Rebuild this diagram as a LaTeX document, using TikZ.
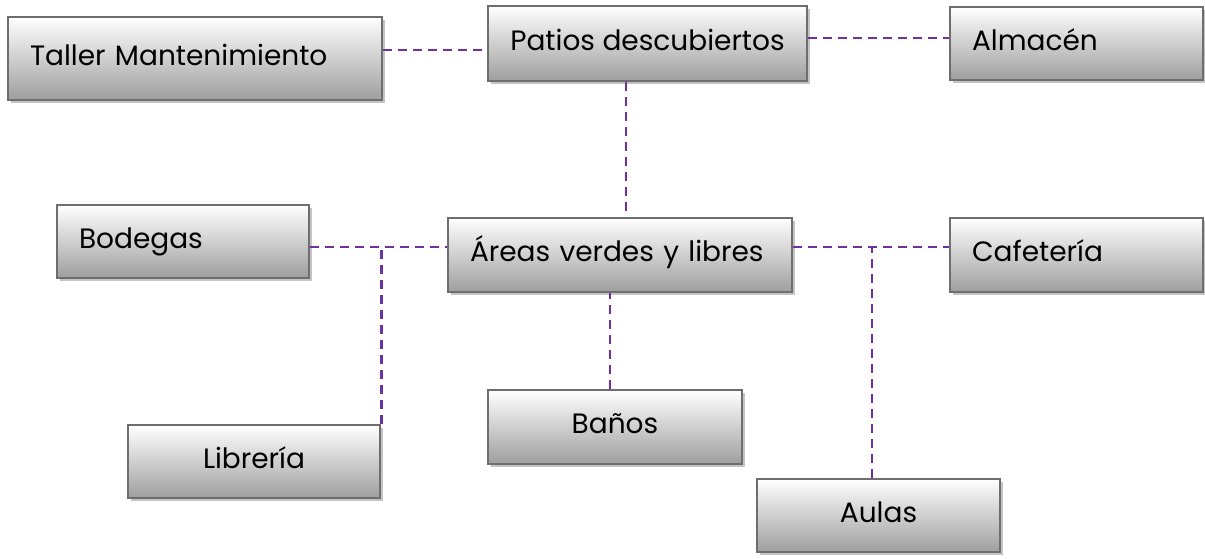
\documentclass[tikz,border=0pt]{standalone}
\usepackage{fontspec}
\setmainfont{Poppins}
\usetikzlibrary{shadows}
\definecolor{PlanPurple}{RGB}{112,48,160}
\definecolor{PlanEdge}{RGB}{110,110,110}
\definecolor{PlanShade}{RGB}{158,158,158}
\definecolor{PlanMid}{RGB}{222,222,222}
\definecolor{PlanShadow}{RGB}{196,196,196}
\tikzset{
  plan/box/.style={
    draw=PlanEdge,
    line width=2.6pt,
    top color=white,
    middle color=PlanMid,
    bottom color=PlanShade,
    drop shadow={shadow xshift=3pt, shadow yshift=-3pt, fill=PlanShadow, opacity=1},
    text=black,
    font=\fontsize{28}{32}\selectfont,
    text height=20pt,
    text depth=7pt,
    inner ysep=0pt
  },
  plan/leftbox/.style={
    plan/box,
    align=left,
    inner xsep=22pt,
    text width=#1-44pt,
    minimum width=#1
  },
  plan/centrebox/.style={
    plan/box,
    align=center,
    inner xsep=0pt,
    minimum width=#1
  },
  plan/link/.style={draw=PlanPurple, line width=2.8pt, dash pattern=on 9pt off 6pt}
}
\begin{document}
\begin{tikzpicture}[x=1pt,y=-1pt]
  \useasboundingbox (0,0) rectangle (1205,558);
  \node[plan/leftbox=374pt,minimum height=83pt] (taller) at (195,58.5) {Taller Mantenimiento};
  \node[plan/centrebox=319pt,minimum height=75pt] (patios) at (647.5,43.5) {Patios descubiertos};
  \node[plan/leftbox=253pt,minimum height=73pt] (almacen) at (1076.5,43.5) {Almacén};
  \node[plan/leftbox=252pt,minimum height=73pt] (bodegas) at (183,241.5) {Bodegas};
  \node[plan/leftbox=344pt,minimum height=74pt] (areas) at (620,255) {Áreas verdes y libres};
  \node[plan/leftbox=253pt,minimum height=74pt] (cafeteria) at (1076.5,255) {Cafetería};
  \node[plan/centrebox=252pt,minimum height=73pt] (libreria) at (254,461.5) {Librería};
  \node[plan/centrebox=254pt,minimum height=74pt] (banos) at (615,427) {Baños};
  \node[plan/centrebox=243pt,minimum height=73pt] (aulas) at (878.5,515.5) {Aulas};

  % top row
  \draw[plan/link] ([yshift=8.5pt]taller.east) -- ([yshift=-6.5pt]patios.west);
  \draw[plan/link] ([yshift=5.5pt]patios.east) -- ([yshift=5.5pt]almacen.west);
  \draw[plan/link] ([xshift=-21.5pt]patios.south) -- ([xshift=6pt]areas.north);
  % middle row and branches
  \coordinate (bl) at ([yshift=-5.5pt]bodegas.east);
  \coordinate (cl) at ([yshift=8pt]areas.east);
  \draw[plan/link] (bl) -- (areas.west |- bl);
  \draw[plan/link] (libreria.north east) -- (libreria.north east |- bl);
  \draw[plan/link] (cl) -- (cafeteria.west |- cl);
  \draw[plan/link] ([xshift=-6.5pt]aulas.north) -- ([xshift=-6.5pt]aulas.north |- cl);
  \draw[plan/link] ([xshift=-5pt]banos.north) -- ([xshift=-5pt]banos.north |- areas.south);
\end{tikzpicture}
\end{document}
